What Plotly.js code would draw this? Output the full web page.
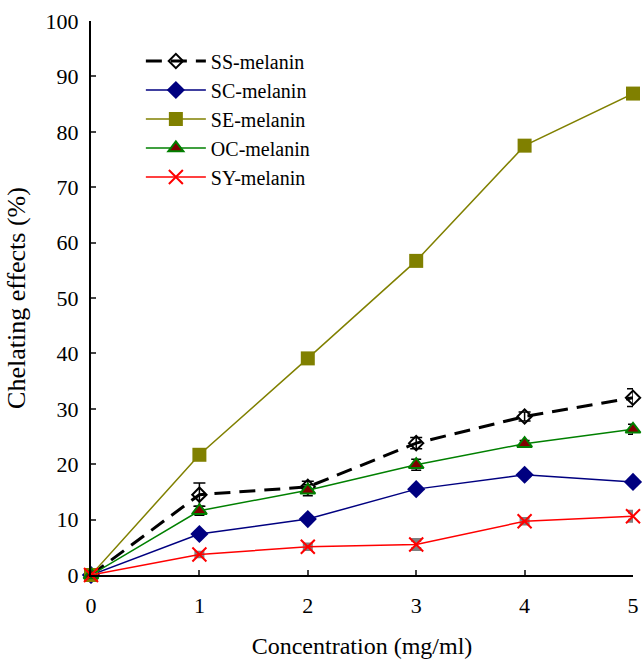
<!DOCTYPE html>
<html>
<head>
<meta charset="utf-8">
<script src="https://cdn.plot.ly/plotly-3.0.1.min.js"></script>
<style>body{margin:0;background:#fff}#chart{width:643px;height:660px}</style>
</head>
<body>
<div id="chart"></div>
<script>
const conc = [0, 1, 2, 3, 4, 5];
const ssMelanin = [0, 14.5, 15.9, 23.8, 28.6, 32.0];
const ssErr = [0, 2.1, 1.0, 1.0, 0.8, 1.6];
const scMelanin = [0, 7.4, 10.1, 15.5, 18.1, 16.8];
const seMelanin = [0, 21.7, 39.1, 56.7, 77.5, 86.9];
const ocMelanin = [0, 11.6, 15.3, 19.9, 23.7, 26.3];
const ocErr = [0, 0.8, 1.0, 1.0, 0.6, 0.9];
const syMelanin = [0, 3.7, 5.1, 5.5, 9.7, 10.6];
const syErr = [0, 0.3, 0.4, 0.8, 0.4, 0.8];
const names = ["SS-melanin", "SC-melanin", "SE-melanin", "OC-melanin", "SY-melanin"];
const yTicks = [0, 10, 20, 30, 40, 50, 60, 70, 80, 90, 100];
const xTicks = [0, 1, 2, 3, 4, 5];

const traces = [
  {x: conc, y: ssMelanin, name: names[0], mode: "lines+markers",
   line: {color: "#000", width: 3, dash: "16px,9px"},
   marker: {symbol: "diamond-open", size: 11, color: "#000", line: {width: 2, color: "#000"}},
   error_y: {type: "data", array: ssErr, visible: true, color: "#000", thickness: 1.5, width: 6}},
  {x: conc, y: scMelanin, name: names[1], mode: "lines+markers",
   line: {color: "#000080", width: 1.5},
   marker: {symbol: "diamond", size: 14, color: "#000080"}},
  {x: conc, y: seMelanin, name: names[2], mode: "lines+markers",
   line: {color: "#808000", width: 1.5},
   marker: {symbol: "square", size: 14, color: "#808000"}},
  {x: conc, y: ocMelanin, name: names[3], mode: "lines+markers",
   line: {color: "#008000", width: 1.5},
   marker: {symbol: "triangle-up", size: 13, color: "#800000", line: {width: 2, color: "#008000"}},
   error_y: {type: "data", array: ocErr, visible: true, color: "#000", thickness: 1.5, width: 5}},
  {x: conc, y: syMelanin, name: names[4], mode: "lines+markers",
   line: {color: "#ff0000", width: 1.5},
   marker: {symbol: "x-thin", size: 14, color: "#ff0000", line: {width: 2, color: "#ff0000"}},
   error_y: {type: "data", array: syErr, visible: true, color: "#808080", thickness: 4, width: 5}}
];
traces.forEach(t => t.cliponaxis = false);

const font = "Liberation Serif, Times New Roman, serif";
const layout = {
  width: 643, height: 660,
  margin: {l: 91, r: 10, t: 21, b: 85},
  paper_bgcolor: "#fff", plot_bgcolor: "#fff",
  font: {family: font, color: "#000", size: 20},
  showlegend: true,
  legend: {x: 0.092, y: 0.963, xanchor: "left", yanchor: "top",
           font: {family: font, size: 20, color: "#000"}, tracegroupgap: 0,
           bgcolor: "rgba(0,0,0,0)", itemwidth: 60},
  xaxis: {range: [0, 5], tickvals: xTicks, ticks: "inside", ticklen: 5, tickwidth: 2,
          showline: true, linecolor: "#000", linewidth: 2, showgrid: false, zeroline: false,
          tickfont: {family: font, size: 22}, ticklabelstandoff: 10,
          title: {text: "Concentration (mg/ml)", font: {family: font, size: 24}, standoff: 20}},
  yaxis: {range: [0, 100], tickvals: yTicks, ticks: "inside", ticklen: 5, tickwidth: 2,
          showline: true, linecolor: "#000", linewidth: 2, showgrid: false, zeroline: false,
          tickfont: {family: font, size: 22}, ticklabelstandoff: 6,
          title: {text: "Chelating effects (%)", font: {family: font, size: 26}, standoff: 12}}
};
Plotly.newPlot("chart", traces, layout, {displayModeBar: false});
</script>
</body>
</html>
